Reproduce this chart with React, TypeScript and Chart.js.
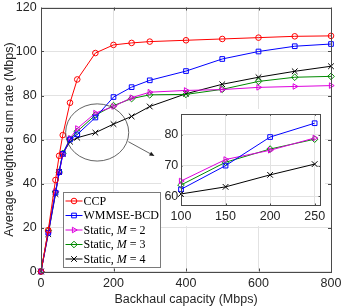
import React, { useEffect, useRef } from "react";
import { Chart, registerables } from "chart.js";

Chart.register(...registerables);

// ---------------- data ----------------
const capacity = [0, 20, 40, 50, 60, 80, 100, 150, 200, 250, 300, 400, 500, 600, 700, 800];
const ccp = [0, 18.8, 41.6, 52.6, 62.0, 76.7, 87.3, 99.3, 103.0, 103.9, 104.5, 105.1, 105.7, 106.3, 106.9, 107.1];
const wmmseBcd = [0, 17.6, 35.8, 45.2, 53.5, 60.0, 62.3, 70.0, 79.3, 83.8, 86.9, 91.1, 96.6, 100.0, 102.4, 103.4];
const staticM2 = [0, 17.6, 36.4, 44.6, 53.0, 60.5, 65.0, 72.0, 75.0, 79.0, 81.5, 82.3, 82.7, 83.7, 84.1, 84.5];
const staticM3 = [0, 18.5, 36.2, 45.2, 53.7, 60.2, 63.7, 71.1, 75.4, 78.6, 80.3, 80.5, 82.8, 86.4, 88.3, 88.7];
const staticM4 = [0, 17.0, 35.2, 45.2, 53.5, 59.0, 60.8, 63.1, 67.0, 70.5, 75.0, 80.8, 85.1, 88.3, 91.0, 93.3];

const seriesLabels = ["CCP", "WMMSE-BCD", "Static, M = 2", "Static, M = 3", "Static, M = 4"];
const seriesValues = [ccp, wmmseBcd, staticM2, staticM3, staticM4];
const insetSeries = ["WMMSE-BCD", "Static, M = 2", "Static, M = 3", "Static, M = 4"];

const xTicks = [0, 200, 400, 600, 800];
const yTicks = [0, 20, 40, 60, 80, 100, 120];
const insetXTicks = [100, 150, 200, 250];
const insetYTicks = [60, 70, 80];
const insetXRange = [100, 256];
const insetYRange = [57.2, 86.7];

const xTitle = "Backhaul capacity (Mbps)";
const yTitle = "Average weighted sum rate (Mbps)";

// zoom annotation in data units
const zoomEllipse = { cx: 155, cy: 63.2, rx: 87, ry: 13 };
const zoomArrow = { x0: 241, y0: 59, x1: 313, y1: 52.5 };

// ---------------- styles ----------------
const SANS = '"Liberation Sans", Arial, Helvetica, sans-serif';
const SERIF = '"Liberation Serif", "Times New Roman", serif';
const TXT = "#262626";
const GRID = "#e2e2e2";
const BOX = "#4a4a4a";

type Marker = "circle" | "rect" | "triangle" | "rectRot" | "crossRot";
const seriesStyle: { color: string; marker: Marker; rot: number; r: number }[] = [
  { color: "#ff0000", marker: "circle", rot: 0, r: 2.8 },
  { color: "#0000ff", marker: "rect", rot: 0, r: 3.3 },
  { color: "#dd00dd", marker: "triangle", rot: 90, r: 3.2 },
  { color: "#008a00", marker: "rectRot", rot: 0, r: 3.3 },
  { color: "#000000", marker: "crossRot", rot: 0, r: 4 },
];

function makeDatasets(lo: number, hi: number, only?: string[]) {
  return seriesValues
    .map((vals, i) => {
      const st = seriesStyle[i];
      const data = capacity
        .map((x, j) => ({ x, y: vals[j] }))
        .filter((p) => p.x >= lo && p.x <= hi);
      return {
        label: seriesLabels[i],
        data,
        borderColor: st.color,
        backgroundColor: "rgba(0,0,0,0)",
        borderWidth: 1,
        pointStyle: st.marker,
        pointRotation: st.rot,
        pointRadius: st.r,
        pointBorderWidth: 1,
        pointBorderColor: st.color,
        pointBackgroundColor: "rgba(0,0,0,0)",
        tension: 0,
        clip: false as any,
      };
    })
    .filter((d) => !only || only.includes(d.label));
}

function drawMarker(ctx: CanvasRenderingContext2D, m: Marker, x: number, y: number, r: number, color: string) {
  ctx.save();
  ctx.strokeStyle = color;
  ctx.lineWidth = 1;
  ctx.beginPath();
  if (m === "circle") {
    ctx.arc(x, y, r, 0, Math.PI * 2);
  } else if (m === "rect") {
    const s = Math.SQRT1_2 * r;
    ctx.rect(x - s, y - s, 2 * s, 2 * s);
  } else if (m === "triangle") {
    ctx.moveTo(x + r, y);
    ctx.lineTo(x - 0.5 * r, y + 0.866 * r);
    ctx.lineTo(x - 0.5 * r, y - 0.866 * r);
    ctx.closePath();
  } else if (m === "rectRot") {
    ctx.moveTo(x - r, y);
    ctx.lineTo(x, y - r);
    ctx.lineTo(x + r, y);
    ctx.lineTo(x, y + r);
    ctx.closePath();
  } else {
    const o = Math.SQRT1_2 * r;
    ctx.moveTo(x - o, y - o);
    ctx.lineTo(x + o, y + o);
    ctx.moveTo(x + o, y - o);
    ctx.lineTo(x - o, y + o);
  }
  ctx.stroke();
  ctx.restore();
}

function boxAndTicks(tickLen: number) {
  return {
    id: "boxAndTicks",
    afterDatasetsDraw(chart: any) {
      const { ctx, chartArea: a, scales } = chart;
      ctx.save();
      ctx.strokeStyle = BOX;
      ctx.lineWidth = 1;
      ctx.beginPath();
      for (const t of scales.x.ticks) {
        const px = Math.round(scales.x.getPixelForValue(t.value)) + 0.5;
        ctx.moveTo(px, a.bottom);
        ctx.lineTo(px, a.bottom - tickLen);
        ctx.moveTo(px, a.top);
        ctx.lineTo(px, a.top + tickLen);
      }
      for (const t of scales.y.ticks) {
        const py = Math.round(scales.y.getPixelForValue(t.value)) + 0.5;
        ctx.moveTo(a.left, py);
        ctx.lineTo(a.left + tickLen, py);
        ctx.moveTo(a.right, py);
        ctx.lineTo(a.right - tickLen, py);
      }
      ctx.stroke();
      ctx.strokeRect(Math.round(a.left) + 0.5, Math.round(a.top) + 0.5, Math.round(a.right - a.left), Math.round(a.bottom - a.top));
      ctx.restore();
    },
  };
}

const zoomMark = {
  id: "zoomMark",
  afterDatasetsDraw(chart: any) {
    const { ctx, scales } = chart;
    const { x, y } = scales;
    const cx = x.getPixelForValue(zoomEllipse.cx);
    const cy = y.getPixelForValue(zoomEllipse.cy);
    const rx = x.getPixelForValue(zoomEllipse.cx + zoomEllipse.rx) - cx;
    const ry = cy - y.getPixelForValue(zoomEllipse.cy + zoomEllipse.ry);
    ctx.save();
    ctx.strokeStyle = "#3c3c3c";
    ctx.lineWidth = 0.8;
    ctx.beginPath();
    ctx.ellipse(cx, cy, rx, ry, 0, 0, Math.PI * 2);
    ctx.stroke();
    const x0 = x.getPixelForValue(zoomArrow.x0);
    const y0 = y.getPixelForValue(zoomArrow.y0);
    const x1 = x.getPixelForValue(zoomArrow.x1);
    const y1 = y.getPixelForValue(zoomArrow.y1);
    const ang = Math.atan2(y1 - y0, x1 - x0);
    const hl = 5;
    const hw = 2.2;
    ctx.beginPath();
    ctx.moveTo(x0, y0);
    ctx.lineTo(x1 - Math.cos(ang) * hl, y1 - Math.sin(ang) * hl);
    ctx.stroke();
    ctx.fillStyle = "#1a1a1a";
    ctx.beginPath();
    ctx.moveTo(x1, y1);
    ctx.lineTo(x1 - Math.cos(ang) * hl - Math.sin(ang) * hw, y1 - Math.sin(ang) * hl + Math.cos(ang) * hw);
    ctx.lineTo(x1 - Math.cos(ang) * hl + Math.sin(ang) * hw, y1 - Math.sin(ang) * hl - Math.cos(ang) * hw);
    ctx.closePath();
    ctx.fill();
    ctx.restore();
  },
};

const legendBox = {
  id: "legendBox",
  afterDraw(chart: any) {
    const { ctx, chartArea: a } = chart;
    const left = Math.round(a.left + 22) + 0.5;
    const w = 97;
    const h = 75;
    const top = Math.round(a.bottom - 4.5 - h) + 0.5;
    ctx.save();
    ctx.fillStyle = "#ffffff";
    ctx.fillRect(left, top, w, h);
    ctx.strokeStyle = "#7a7a7a";
    ctx.lineWidth = 1;
    ctx.strokeRect(left, top, w, h);
    const rowH = 14.5;
    seriesLabels.forEach((lab, i) => {
      const st = seriesStyle[i];
      const cy = top + 8.5 + i * rowH;
      ctx.strokeStyle = st.color;
      ctx.lineWidth = 1;
      ctx.beginPath();
      ctx.moveTo(left + 2, cy);
      ctx.lineTo(left + 19, cy);
      ctx.stroke();
      drawMarker(ctx, st.marker, left + 10.5, cy, st.r, st.color);
      ctx.fillStyle = "#000000";
      ctx.textBaseline = "middle";
      ctx.textAlign = "left";
      let tx = left + 20;
      const m = lab.match(/^(.*, )(M)( = .*)$/);
      const parts: [string, boolean][] = m ? [[m[1], false], [m[2], true], [m[3], false]] : [[lab, false]];
      for (const [s, it] of parts) {
        ctx.font = `${it ? "italic " : ""}12px ${SERIF}`;
        ctx.fillText(s, tx, cy + 0.5);
        tx += ctx.measureText(s).width;
      }
    });
    ctx.restore();
  },
};

function zeroPad(s: any) {
  s.paddingTop = 0;
  s.paddingBottom = 0;
  s.paddingLeft = 0;
  s.paddingRight = 0;
}

export default function App() {
  const mainRef = useRef<HTMLCanvasElement>(null);
  const insetRef = useRef<HTMLCanvasElement>(null);

  useEffect(() => {
    document.body.style.margin = "0";
    const tickFont = { family: SANS, size: 12.5 };

    const main = new Chart(mainRef.current as HTMLCanvasElement, {
      type: "line",
      data: { datasets: makeDatasets(-Infinity, Infinity) as any },
      options: {
        responsive: false,
        animation: false,
        devicePixelRatio: 1,
        layout: { padding: { left: 0, right: 11, top: 7.5, bottom: 0 } },
        plugins: { legend: { display: false }, tooltip: { enabled: false } },
        scales: {
          x: {
            type: "linear",
            min: xTicks[0],
            max: xTicks[xTicks.length - 1],
            afterBuildTicks: (s: any) => {
              s.ticks = xTicks.map((v) => ({ value: v }));
            },
            afterFit: (s: any) => {
              s.height = 35.5;
              zeroPad(s);
            },
            grid: { color: GRID, lineWidth: 1, drawTicks: false },
            border: { display: false },
            ticks: { color: TXT, font: tickFont, padding: 5, maxRotation: 0, autoSkip: false },
            title: { display: true, text: xTitle, color: TXT, font: tickFont, padding: { top: 0, bottom: 0 } },
          },
          y: {
            type: "linear",
            min: yTicks[0],
            max: yTicks[yTicks.length - 1],
            afterBuildTicks: (s: any) => {
              s.ticks = yTicks.map((v) => ({ value: v }));
            },
            afterFit: (s: any) => {
              s.width = 41;
              zeroPad(s);
            },
            grid: { color: GRID, lineWidth: 1, drawTicks: false },
            border: { display: false },
            ticks: { color: TXT, font: tickFont, padding: 4.3, autoSkip: false },
            title: { display: true, text: yTitle, color: TXT, font: tickFont, padding: { top: 2.3, bottom: 0 } },
          },
        },
      },
      plugins: [boxAndTicks(3), zoomMark, legendBox],
    });

    const inset = new Chart(insetRef.current as HTMLCanvasElement, {
      type: "line",
      data: { datasets: makeDatasets(insetXTicks[0], insetXTicks[insetXTicks.length - 1], insetSeries) as any },
      options: {
        responsive: false,
        animation: false,
        devicePixelRatio: 1,
        layout: { padding: { left: 0, right: 1.7, top: 5.3, bottom: 0 } },
        plugins: { legend: { display: false }, tooltip: { enabled: false } },
        scales: {
          x: {
            type: "linear",
            min: insetXRange[0],
            max: insetXRange[1],
            afterBuildTicks: (s: any) => {
              s.ticks = insetXTicks.map((v) => ({ value: v }));
            },
            afterFit: (s: any) => {
              s.height = 21;
              zeroPad(s);
            },
            grid: { color: GRID, lineWidth: 1, drawTicks: false },
            border: { display: false },
            ticks: { color: TXT, font: tickFont, padding: 4, maxRotation: 0, autoSkip: false },
          },
          y: {
            type: "linear",
            min: insetYRange[0],
            max: insetYRange[1],
            afterBuildTicks: (s: any) => {
              s.ticks = insetYTicks.map((v) => ({ value: v }));
            },
            afterFit: (s: any) => {
              s.width = 20;
              zeroPad(s);
            },
            grid: { color: GRID, lineWidth: 1, drawTicks: false },
            border: { display: false },
            ticks: { color: TXT, font: tickFont, padding: 2.7, autoSkip: false },
          },
        },
      },
      plugins: [boxAndTicks(1.5)],
    });

    return () => {
      main.destroy();
      inset.destroy();
    };
  }, []);

  return (
    <div style={{ position: "relative", width: 342, height: 307, background: "#ffffff" }}>
      <canvas
        ref={mainRef}
        width={342}
        height={307}
        style={{ position: "absolute", left: 0, top: 0, width: 342, height: 307 }}
      />
      <canvas
        ref={insetRef}
        width={164}
        height={117}
        style={{ position: "absolute", left: 161, top: 109, width: 164, height: 117, background: "#ffffff" }}
      />
    </div>
  );
}
